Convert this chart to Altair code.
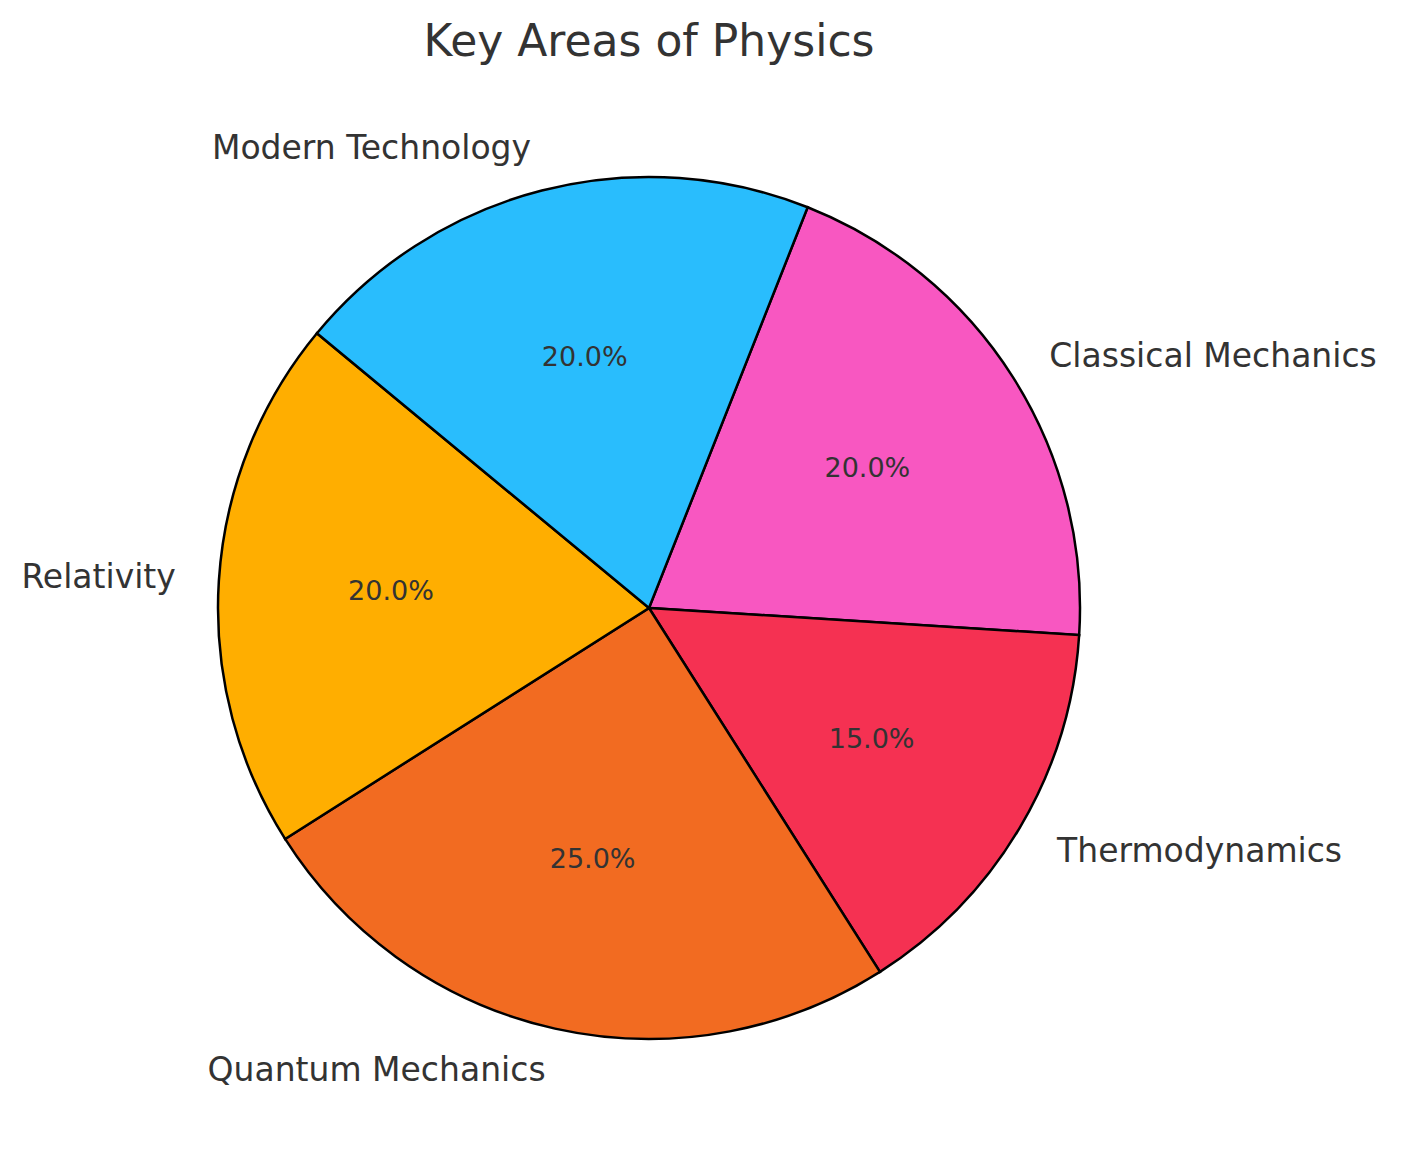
import math
import altair as alt
import pandas as pd

labels = ["Classical Mechanics", "Thermodynamics", "Quantum Mechanics", "Relativity", "Modern Technology"]
shares = [20, 15, 25, 20, 20]
colors = ["#F857C1", "#F53152", "#F26B21", "#FFAE00", "#29BDFD"]

df = pd.DataFrame({"label": labels, "share": shares, "order": list(range(len(labels)))})

START = 0.06  # fraction of a turn, clockwise from 12 o'clock
CX, CY = 641, 539
R = 431

theta_scale = alt.Scale(range=[START * 2 * math.pi, (START + 1) * 2 * math.pi])

base = (
    alt.Chart(df)
    .transform_window(cum="sum(share)", sort=[alt.SortField("order")])
    .transform_calculate(
        frac=f"{START} + (datum.cum - datum.share / 2) / 100",
        pct="format(datum.share / 100, '.1%')",
    )
    .transform_calculate(
        lab_right="datum.frac < 0.5 ? datum.label : ''",
        lab_left="datum.frac >= 0.5 ? datum.label : ''",
    )
    .encode(
        theta=alt.Theta("share:Q", stack=True, scale=theta_scale),
        order=alt.Order("order:O"),
        detail="label:N",
        x=alt.value(CX),
        y=alt.value(CY),
    )
)

arcs = base.mark_arc(radius=R, stroke="black", strokeWidth=2.5).encode(
    color=alt.Color("label:N", scale=alt.Scale(domain=labels, range=colors), legend=None)
)

pct_text = base.mark_text(
    radius=R * 0.6, fontSize=27, font="DejaVu Sans", color="#333333", baseline="middle", align="center"
).encode(text="pct:N")

right_lab = base.mark_text(
    radius=R * 1.1, fontSize=33, font="DejaVu Sans", color="#333333", baseline="middle", align="left", dy=3
).encode(text="lab_right:N")

left_lab = base.mark_text(
    radius=R * 1.1, fontSize=33, font="DejaVu Sans", color="#333333", baseline="middle", align="right"
).encode(text="lab_left:N")

chart = (
    alt.layer(arcs, pct_text, right_lab, left_lab)
    .properties(
        width=1282,
        height=1060,
        padding={"top": 13, "left": 0, "right": 0, "bottom": 0},
        title=alt.TitleParams(
            "Key Areas of Physics",
            fontSize=44,
            font="DejaVu Sans",
            fontWeight="normal",
            color="#333333",
            anchor="middle",
        ),
    )
    .configure_view(stroke=None)
)

chart.save("out.html", embed_options={"renderer": "svg", "actions": False})
